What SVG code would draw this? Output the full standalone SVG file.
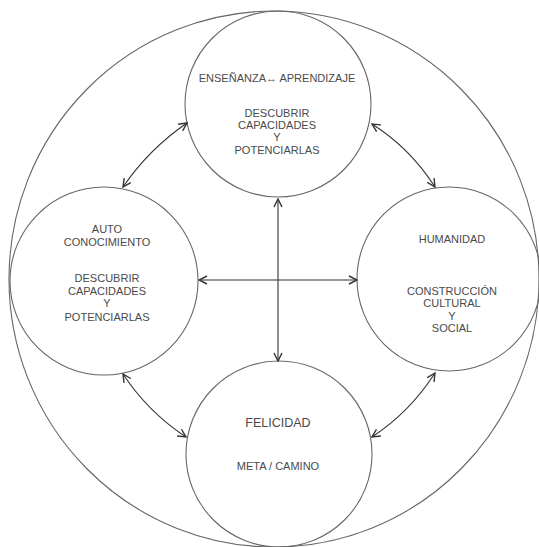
<svg xmlns="http://www.w3.org/2000/svg" width="539" height="547" viewBox="0 0 539 547">
<defs>
<style>
.c{fill:none;stroke:#666;stroke-width:1.1}
.t{font-family:"Liberation Sans",Arial,sans-serif;font-size:11px;fill:#4a4a4a;text-anchor:middle}
.big{font-size:12.5px}
.a{fill:none;stroke:#333;stroke-width:1.1;marker-start:url(#h);marker-end:url(#h)}
</style>
<marker id="h" viewBox="0 0 10 10" refX="9" refY="5" markerWidth="10" markerHeight="10" markerUnits="userSpaceOnUse" orient="auto-start-reverse">
<path d="M1,1 L9,5 L1,9" fill="none" stroke="#333" stroke-width="1.4"/>
</marker>
</defs>
<rect width="539" height="547" fill="#fff"/>
<g id="outer"><ellipse class="c" cx="274" cy="279" rx="265" ry="268"/></g>
<g id="top">
<circle class="c" cx="278" cy="104" r="93"/>
<text class="t" x="277" y="82">ENSEÑANZA↔ APRENDIZAJE</text>
<text class="t" x="277" y="117">DESCUBRIR</text>
<text class="t" x="277" y="129">CAPACIDADES</text>
<text class="t" x="277" y="141">Y</text>
<text class="t" x="277" y="154">POTENCIARLAS</text>
</g>
<g id="left">
<circle class="c" cx="104" cy="281" r="94"/>
<text class="t" x="107" y="233">AUTO</text>
<text class="t" x="107" y="246">CONOCIMIENTO</text>
<text class="t" x="107" y="282">DESCUBRIR</text>
<text class="t" x="107" y="295">CAPACIDADES</text>
<text class="t" x="107" y="307">Y</text>
<text class="t" x="107" y="321">POTENCIARLAS</text>
</g>
<g id="right">
<circle class="c" cx="449" cy="279" r="92"/>
<text class="t" x="452" y="243">HUMANIDAD</text>
<text class="t" x="452" y="295">CONSTRUCCIÓN</text>
<text class="t" x="452" y="307">CULTURAL</text>
<text class="t" x="452" y="319.5">Y</text>
<text class="t" x="452" y="332">SOCIAL</text>
</g>
<g id="bottom">
<circle class="c" cx="279" cy="454" r="93"/>
<text class="t big" x="278" y="427">FELICIDAD</text>
<text class="t" x="278" y="470">META / CAMINO</text>
</g>
<g id="connectors">
<path class="a" d="M278,199 L278,361"/>
<path class="a" d="M199,280 L357,280"/>
<path class="a" d="M123,187 Q149,149 187,123"/>
<path class="a" d="M372,124 Q410,148 435,187"/>
<path class="a" d="M123,374 Q148,412 186,437"/>
<path class="a" d="M435,373 Q410,412 372,437"/>
</g>
</svg>
